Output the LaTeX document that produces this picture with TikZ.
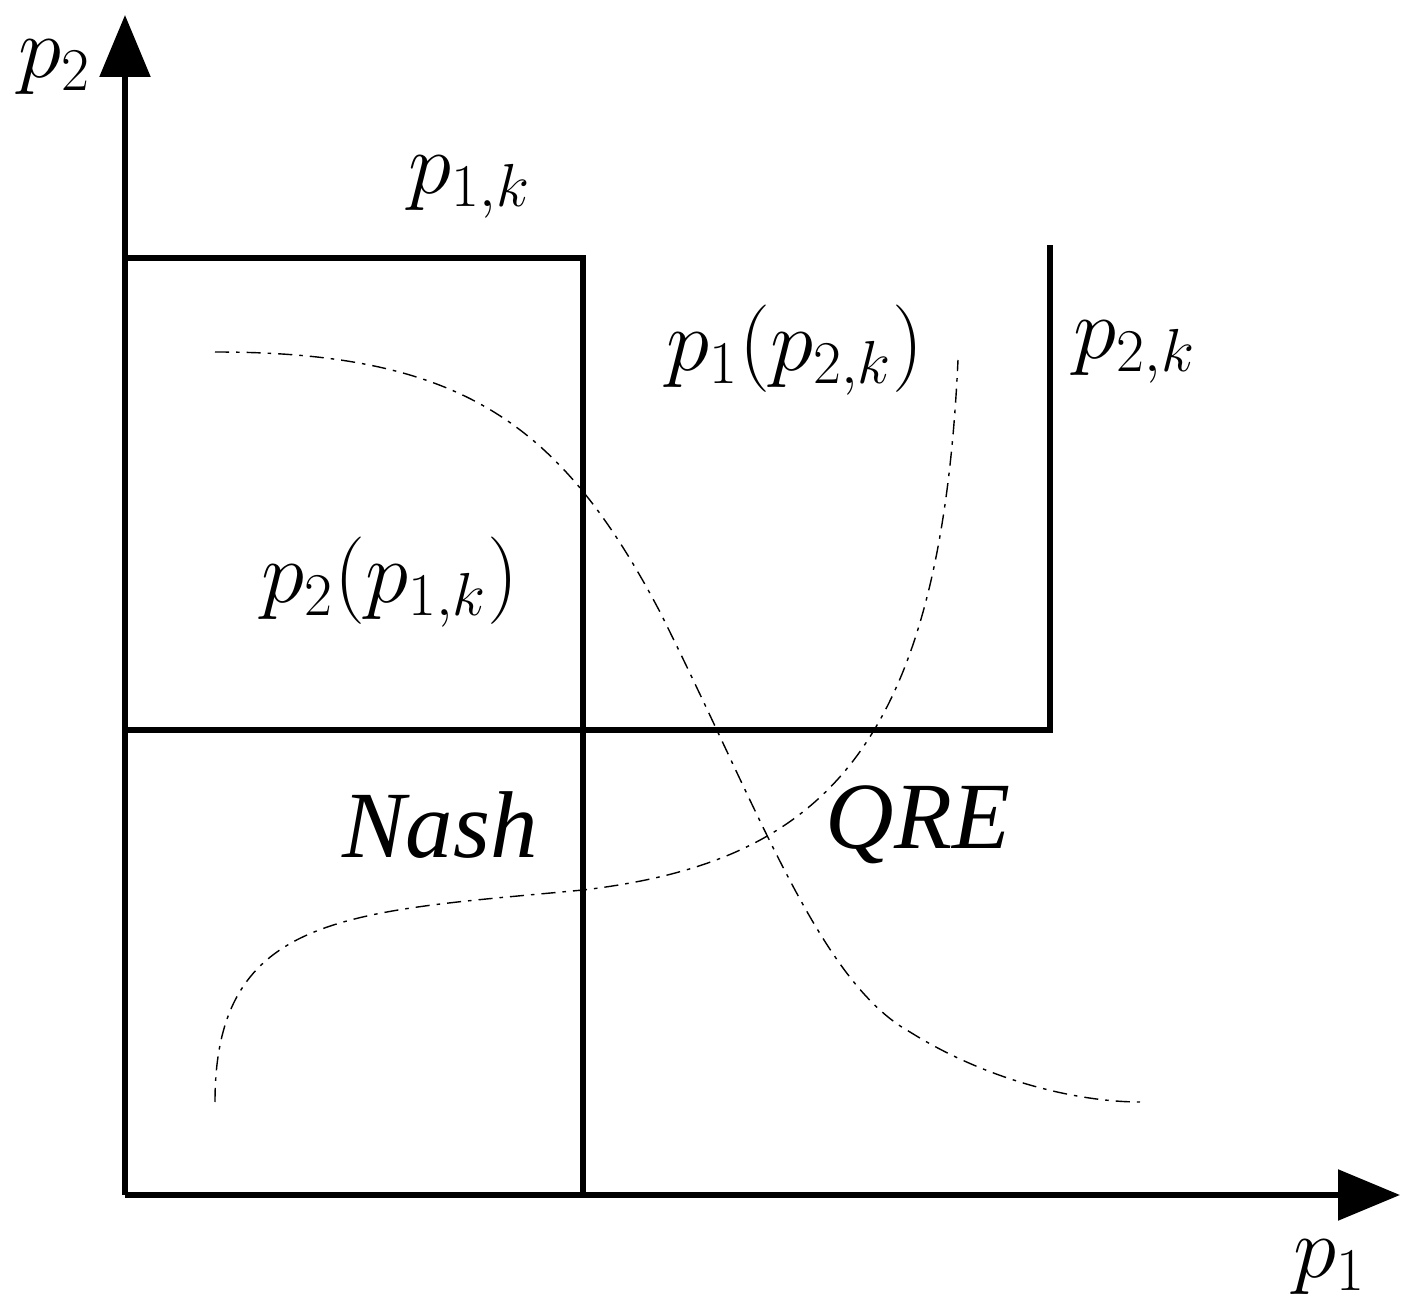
\documentclass[tikz,border=0pt]{standalone}
\usepackage{fontspec}
\setmainfont{Liberation Serif}
\usetikzlibrary{arrows.meta}
\begin{document}
\begin{tikzpicture}[
  axis/.style={line width=1.6pt,-{Triangle[length=0.62cm,width=0.5cm]}},
  box/.style={line width=1.6pt},
  curve/.style={thin,dash pattern=on 4pt off 2pt on 1pt off 2pt},
  lbl/.style={font=\fontsize{27}{32}\selectfont}
]
\useasboundingbox (0,0) rectangle (14.16,13.12);
\coordinate (o) at (1.25,1.17);
\coordinate (xend) at (14.0,1.17);
\coordinate (yend) at (1.25,12.97);
\draw[axis] (o) -- (xend);
\draw[axis] (o) -- (yend);
% boxes
\draw[box] (1.25,10.54) -- (5.83,10.54) -- (5.83,1.17);
\draw[box] (1.25,5.82) -- (10.50,5.82) -- (10.50,10.67);
% reaction curves
\draw[curve] (2.15,9.60) .. controls (4.6,9.6) and (5.6,8.9) .. (6.6,7.0)
  .. controls (7.6,5.0) and (8.2,3.3) .. (9.1,2.8)
  .. controls (9.9,2.3) and (10.8,2.1) .. (11.40,2.10);
\draw[curve] (2.15,2.10) .. controls (2.15,4.0) and (3.5,4.0) .. (5.83,4.22)
  .. controls (8.2,4.5) and (9.4,5.6) .. (9.58,9.52);
% labels
\node[lbl] (lp2) at (0.55,12.45) {$p_2$};
\node[lbl] (lp1) at (13.30,0.45) {$p_1$};
\node[lbl] (lp1k) at (4.70,11.25) {$p_{1,k}$};
\node[lbl] (lp2k) at (11.35,9.60) {$p_{2,k}$};
\node[lbl] (lbr1) at (7.95,9.62) {$p_1(p_{2,k})$};
\node[lbl] (lbr2) at (3.90,7.30) {$p_2(p_{1,k})$};
\node[lbl] (lnash) at (4.40,4.87) {\itshape Nash};
\node[lbl] (lqre) at (9.18,4.87) {\itshape QRE};
\end{tikzpicture}
\end{document}
